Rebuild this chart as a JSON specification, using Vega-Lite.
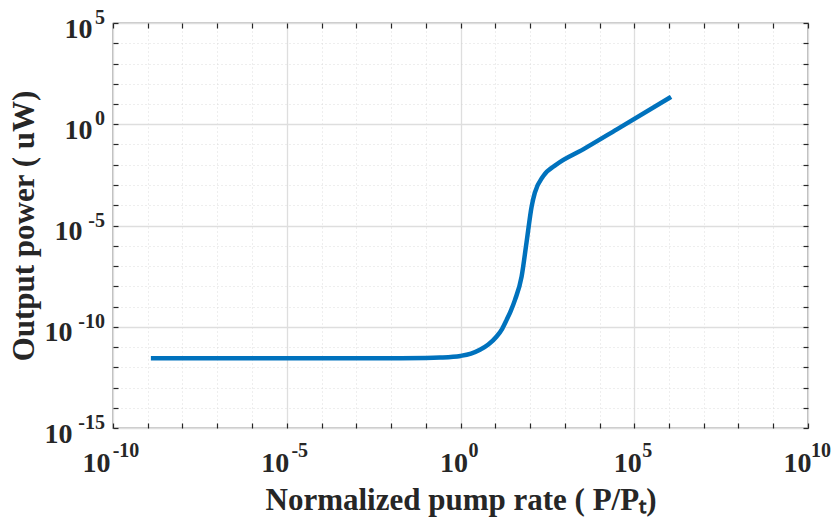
{
  "$schema": "https://vega.github.io/schema/vega-lite/v6.json",
  "autosize": {"type": "none"},
  "width": 695,
  "height": 405,
  "padding": {"left": 113, "top": 23, "right": 27, "bottom": 93},
  "background": "white",
  "config": {
    "view": {"stroke": "#262626", "strokeWidth": 1.2},
    "font": "Liberation Serif"
  },
  "datasets": {
    "curve": [
      {"x": 1.23e-9, "y": 2.82e-12},
      {"x": 1e-6, "y": 2.82e-12},
      {"x": 1e-3, "y": 2.82e-12},
      {"x": 0.0182, "y": 2.82e-12},
      {"x": 0.1, "y": 2.88e-12},
      {"x": 0.257, "y": 3.02e-12},
      {"x": 1, "y": 3.63e-12},
      {"x": 2.0, "y": 4.68e-12},
      {"x": 3.63, "y": 7.24e-12},
      {"x": 6.31, "y": 1.32e-11},
      {"x": 10.96, "y": 3.31e-11},
      {"x": 15.85, "y": 7.94e-11},
      {"x": 21.4, "y": 2.24e-10},
      {"x": 28.2, "y": 6.31e-10},
      {"x": 37.2, "y": 2.19e-9},
      {"x": 57.5, "y": 3.09e-8},
      {"x": 79.4, "y": 1.45e-6},
      {"x": 112, "y": 9.12e-5},
      {"x": 138, "y": 4.17e-4},
      {"x": 240, "y": 2.75e-3},
      {"x": 589, "y": 1.05e-2},
      {"x": 3388, "y": 5.75e-2},
      {"x": 31623, "y": 0.56},
      {"x": 1148000, "y": 22.4}
    ],
    "xexp": [
      {"v": 1e-10, "e": "-10"},
      {"v": 1e-5, "e": "-5"},
      {"v": 1, "e": "0"},
      {"v": 1e5, "e": "5"},
      {"v": 1e10, "e": "10"}
    ],
    "yexp": [
      {"v": 1e-15, "e": "-15"},
      {"v": 1e-10, "e": "-10"},
      {"v": 1e-5, "e": "-5"},
      {"v": 1, "e": "0"},
      {"v": 1e5, "e": "5"}
    ]
  },
  "resolve": {"axis": {"x": "independent", "y": "independent"}},
  "layer": [
    {
      "data": {"name": "curve"},
      "mark": {"type": "line", "color": "#0072BD", "strokeWidth": 4.5, "interpolate": "monotone", "clip": true},
      "encoding": {
        "x": {
          "field": "x", "type": "quantitative",
          "scale": {"type": "log", "domain": [1e-10, 1e10], "nice": false},
          "axis": {
            "orient": "bottom",
            "values": [1e-10,1e-9,1e-8,1e-7,1e-6,1e-5,1e-4,1e-3,1e-2,1e-1,1,10,100,1000,1e4,1e5,1e6,1e7,1e8,1e9,1e10],
            "labelExpr": "round(log(datum.value)/LN10) % 5 == 0 ? '10' : ''",
            "labelFont": "Liberation Serif", "labelFontWeight": "bold", "labelFontSize": 28, "labelColor": "#262626",
            "labelAlign": "right", "labelBaseline": "alphabetic",
            "labelOffset": {"condition": [
              {"test": "round(log(datum.value)/LN10) == -10", "value": -3},
              {"test": "round(log(datum.value)/LN10) == -5", "value": 2},
              {"test": "round(log(datum.value)/LN10) == 10", "value": 3}
            ], "value": 7},
            "labelPadding": 48, "labelFlush": false, "labelOverlap": false,
            "tickSize": -5, "tickColor": "#262626", "tickWidth": 1.2,
            "domain": false,
            "grid": true,
            "gridColor": {"condition": {"test": "round(log(datum.value)/LN10) % 5 == 0", "value": "#dedede"}, "value": "#d4d4d4"},
            "gridDash": {"condition": {"test": "round(log(datum.value)/LN10) % 5 == 0", "value": []}, "value": [1, 3]},
            "gridWidth": {"condition": {"test": "round(log(datum.value)/LN10) % 5 == 0", "value": 1.3}, "value": 0.8},
            "title": "Normalized pump rate ( P/Pₜ)",
            "titleFont": "Liberation Serif", "titleFontWeight": "bold", "titleFontSize": 31, "titleColor": "#262626",
            "titlePadding": 8
          }
        },
        "y": {
          "field": "y", "type": "quantitative",
          "scale": {"type": "log", "domain": [1e-15, 1e5], "nice": false},
          "axis": {
            "orient": "left",
            "values": [1e-15,1e-14,1e-13,1e-12,1e-11,1e-10,1e-9,1e-8,1e-7,1e-6,1e-5,1e-4,1e-3,1e-2,1e-1,1,10,100,1000,1e4,1e5],
            "labelExpr": "round(log(datum.value)/LN10) % 5 == 0 ? '10' : ''",
            "labelFont": "Liberation Serif", "labelFontWeight": "bold", "labelFontSize": 28, "labelColor": "#262626",
            "labelAlign": "right", "labelBaseline": "alphabetic",
            "labelOffset": 14,
            "labelPadding": {"condition": [
              {"test": "round(log(datum.value)/LN10) == -15 || round(log(datum.value)/LN10) == -10", "value": 46},
              {"test": "round(log(datum.value)/LN10) == -5", "value": 36}
            ], "value": 26},
            "labelFlush": false, "labelOverlap": false,
            "tickSize": -5, "tickColor": "#262626", "tickWidth": 1.2,
            "domain": false,
            "grid": true,
            "gridColor": {"condition": {"test": "round(log(datum.value)/LN10) % 5 == 0", "value": "#dedede"}, "value": "#d4d4d4"},
            "gridDash": {"condition": {"test": "round(log(datum.value)/LN10) % 5 == 0", "value": []}, "value": [1, 3]},
            "gridWidth": {"condition": {"test": "round(log(datum.value)/LN10) % 5 == 0", "value": 1.3}, "value": 0.8},
            "title": "Output power ( uW)",
            "titleFont": "Liberation Serif", "titleFontWeight": "bold", "titleFontSize": 31, "titleColor": "#262626",
            "titlePadding": 4
          }
        }
      }
    },
    {
      "data": {"name": "curve"},
      "mark": {"type": "point", "opacity": 0},
      "encoding": {
        "x": {
          "field": "x", "type": "quantitative",
          "axis": {
            "orient": "top",
            "values": [1e-10,1e-9,1e-8,1e-7,1e-6,1e-5,1e-4,1e-3,1e-2,1e-1,1,10,100,1000,1e4,1e5,1e6,1e7,1e8,1e9,1e10],
            "labels": false, "domain": false, "grid": false, "title": null,
            "tickSize": -5, "tickColor": "#262626", "tickWidth": 1.2
          }
        },
        "y": {
          "field": "y", "type": "quantitative",
          "axis": {
            "orient": "right",
            "values": [1e-15,1e-14,1e-13,1e-12,1e-11,1e-10,1e-9,1e-8,1e-7,1e-6,1e-5,1e-4,1e-3,1e-2,1e-1,1,10,100,1000,1e4,1e5],
            "labels": false, "domain": false, "grid": false, "title": null,
            "tickSize": -5, "tickColor": "#262626", "tickWidth": 1.2
          }
        }
      }
    },
    {
      "data": {"name": "xexp"},
      "mark": {"type": "text", "font": "Liberation Serif", "fontWeight": "bold", "fontSize": 20, "color": "#262626", "align": "center", "baseline": "alphabetic", "dx": 13, "dy": 29, "clip": false},
      "encoding": {
        "x": {"field": "v", "type": "quantitative", "axis": null},
        "y": {"datum": 1e-15, "axis": null},
        "text": {"field": "e"}
      }
    },
    {
      "data": {"name": "yexp"},
      "mark": {"type": "text", "font": "Liberation Serif", "fontWeight": "bold", "fontSize": 20, "color": "#262626", "align": "right", "baseline": "alphabetic", "dx": -8, "dy": 1, "clip": false},
      "encoding": {
        "y": {"field": "v", "type": "quantitative", "axis": null},
        "x": {"datum": 1e-10, "axis": null},
        "text": {"field": "e"}
      }
    }
  ]
}
